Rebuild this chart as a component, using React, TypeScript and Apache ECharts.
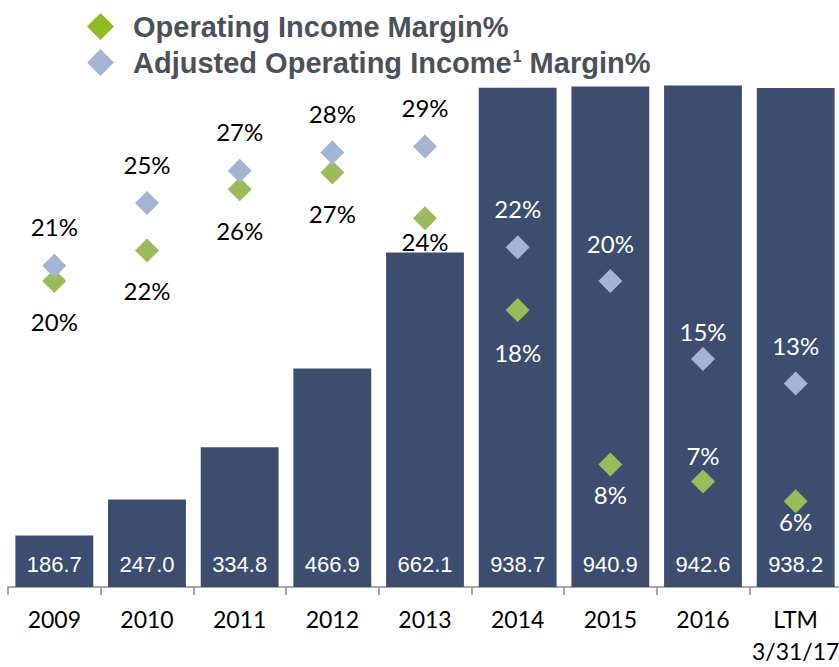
import React, { useEffect, useRef } from "react";
import * as echarts from "echarts";

const categories = ["2009", "2010", "2011", "2012", "2013", "2014", "2015", "2016", "LTM\n3/31/17"];
const revenue = [186.7, 247.0, 334.8, 466.9, 662.1, 938.7, 940.9, 942.6, 938.2];
const opMargin = [20.0, 22.0, 26.0, 27.1, 24.1, 18.1, 8.0, 6.9, 5.6];
const adjMargin = [21.0, 25.1, 27.2, 28.4, 28.8, 22.2, 20.0, 14.9, 13.3];

const OP_NAME = "Operating Income Margin%";
const ADJ_NAME = "Adjusted Operating Income¹ Margin%";

// label placement (layout only)
const opLabelDy = [40, 40, 41, 41, 23, 42, 30, -26, 20];
const adjLabelDy = [-39, -39, -39, -39, -39, -39, -38, -28, -38];
const firstOnBar = 5;

const BAR = "#3c4d6f";
const GREEN = "#9bbb59";
const LEGEND_GREEN = "#8fba21";
const BLUE = "#a4b5d3";
const LEGEND_TEXT = "#4a5259";

export default function App() {
  const ref = useRef<HTMLDivElement>(null);
  useEffect(() => {
    document.body.style.margin = "0";
    const chart = echarts.init(ref.current!, null, { renderer: "svg" });
    const pctLabel = (dy: number[], i: number) => ({
      show: true,
      position: "inside",
      offset: [0, dy[i]],
      color: i >= firstOnBar ? "#ffffff" : "#000000",
      fontFamily: "Lato",
      fontSize: 24,
      formatter: (p: any) => Math.round(p.value) + "%",
    });
    const legendFont = { fontFamily: "Liberation Sans", fontWeight: "bold", fontSize: 29, lineHeight: 30, color: LEGEND_TEXT };
    chart.setOption({
      animation: false,
      grid: { left: 8, top: 80, width: 834, height: 507, containLabel: false, outerBoundsMode: "none" },
      legend: {
        orient: "vertical",
        left: 87,
        top: 12,
        padding: 0,
        itemWidth: 27,
        itemHeight: 27,
        itemGap: 7,
        selectedMode: false,
        data: [
          { name: OP_NAME, icon: "diamond", itemStyle: { color: LEGEND_GREEN } },
          { name: ADJ_NAME, icon: "diamond", itemStyle: { color: BLUE } },
        ],
        formatter: (name: string) =>
          name === OP_NAME
            ? `{a|${name}}`
            : "{a|Adjusted Operating Income}{s|1}{b| Margin%}",
        textStyle: {
          rich: {
            a: { ...legendFont, padding: [0, 0, 0, 14] },
            b: { ...legendFont },
            s: { fontFamily: "Liberation Sans", fontWeight: "bold", fontSize: 16, lineHeight: 16, color: LEGEND_TEXT, verticalAlign: "middle", padding: [0, 0, 12, 1] },
          },
        },
      },
      xAxis: {
        type: "category",
        data: categories,
        boundaryGap: true,
        axisLine: { show: true, lineStyle: { color: "#8c8c8c", width: 1.5 } },
        axisTick: { show: true, length: 8, lineStyle: { color: "#8c8c8c", width: 1.5 } },
        axisLabel: { interval: 0, color: "#000000", fontFamily: "Lato", fontSize: 23, lineHeight: 32, margin: 16 },
        splitLine: { show: false },
      },
      yAxis: [
        { type: "value", min: 100, max: 951.7, show: false, splitLine: { show: false } },
        { type: "value", min: 0, max: 33.14, show: false, splitLine: { show: false } },
      ],
      series: [
        {
          type: "bar",
          yAxisIndex: 0,
          data: revenue,
          barCategoryGap: "16%",
          itemStyle: { color: BAR },
          label: {
            show: true,
            position: "insideBottom",
            distance: 12,
            color: "#ffffff",
            fontFamily: "Liberation Sans",
            fontSize: 22,
            formatter: (p: any) => Number(p.value).toFixed(1),
          },
          z: 1,
        },
        {
          name: OP_NAME,
          type: "scatter",
          yAxisIndex: 1,
          symbol: "diamond",
          symbolSize: 24,
          itemStyle: { color: GREEN, opacity: 1 },
          data: opMargin.map((v, i) => ({ value: v, label: pctLabel(opLabelDy, i) })),
          z: 3,
        },
        {
          name: ADJ_NAME,
          type: "scatter",
          yAxisIndex: 1,
          symbol: "diamond",
          symbolSize: 24,
          itemStyle: { color: BLUE, opacity: 1 },
          data: adjMargin.map((v, i) => ({ value: v, label: pctLabel(adjLabelDy, i) })),
          z: 4,
        },
      ],
    });
    return () => chart.dispose();
  }, []);
  return <div ref={ref} style={{ width: 839, height: 667 }} />;
}
